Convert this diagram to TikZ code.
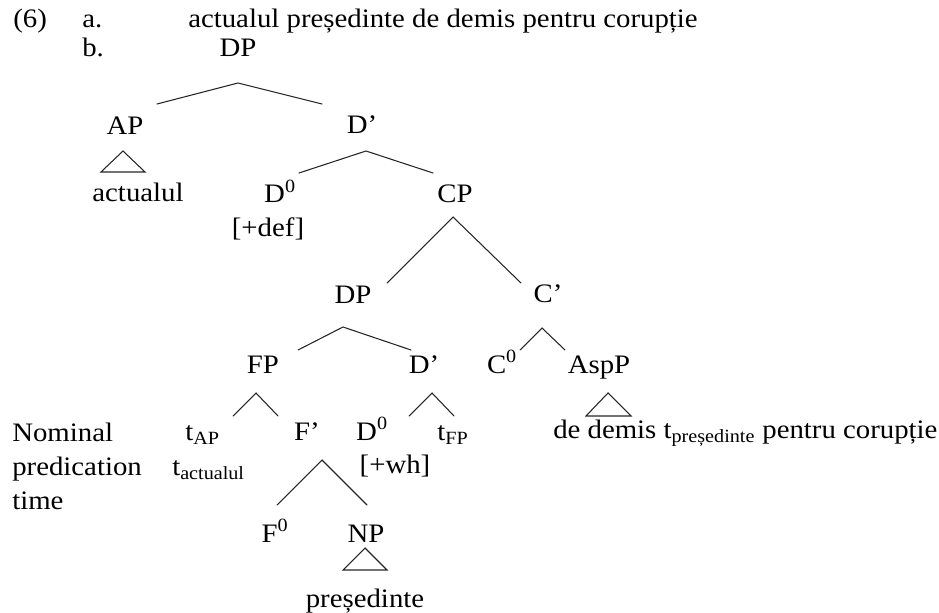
\documentclass[tikz,border=0pt]{standalone}
\usepackage{fontspec}
\setmainfont[FakeStretch=1.08]{Liberation Serif}
\begin{document}
\begin{tikzpicture}[x=0.75pt, y=-0.75pt,
        lbl/.style={anchor=base, inner sep=0pt, font=\fontsize{20}{24}\selectfont},
        lblw/.style={lbl, anchor=base west},
        branch/.style={line width=0.8pt, black!85, line cap=round}]
        \useasboundingbox (0,0) rectangle (939,613);
        % example header
        \node[lblw] (num)   at (13,28)  {(6)};
        \node[lblw] (ex-a)  at (82,28)  {a.};
        \node[lblw] (sent)  at (188,28) {actualul președinte de demis pentru corupție};
        \node[lblw] (ex-b)  at (82,57)  {b.};
        % tree labels
        \node[lbl] (dp1)    at (238,57)  {DP};
        \node[lbl] (ap)     at (125,135) {AP};
        \node[lbl] (actual) at (138,202) {actualul};
        \node[lbl] (dbar1)  at (362,134) {D’};
        \node[lbl] (d1)     at (280,203) {D\textsuperscript{0}};
        \node[lbl] (def)    at (268,237) {[+def]};
        \node[lbl] (cp)     at (455,203) {CP};
        \node[lbl] (dp2)    at (353,303) {DP};
        \node[lbl] (cbar)   at (548,302) {C’};
        \node[lbl] (fp)     at (263,373) {FP};
        \node[lbl] (dbar2)  at (424,373) {D’};
        \node[lbl] (c0)     at (502,373) {C\textsuperscript{0}};
        \node[lbl] (aspp)   at (599,373) {AspP};
        \node[lblw] (tap)   at (185,440) {t\textsubscript{AP}};
        \node[lbl] (fbar)   at (307,440) {F’};
        \node[lbl] (d2)     at (372,440) {D\textsuperscript{0}};
        \node[lbl] (tfp)    at (453,440) {t\textsubscript{FP}};
        \node[lblw] (asp-t) at (553,438) {de demis t\textsubscript{președinte} pentru corupție};
        \node[lblw] (tact)  at (172,475) {t\textsubscript{actualul}};
        \node[lbl] (wh)     at (395,473) {[+wh]};
        \node[lbl] (f0)     at (275,542) {F\textsuperscript{0}};
        \node[lbl] (np)     at (366,542) {NP};
        \node[lbl] (pres)   at (365,607) {președinte};
        % side note
        \node[lblw] (nom)   at (12,441) {Nominal};
        \node[lblw] (pred)  at (12,475) {predication};
        \node[lblw] (time)  at (12,509) {time};
        % branch points
        \coordinate (dp1-fork)   at (238,83);
        \coordinate (ap-arm)     at (157,104);
        \coordinate (dbar1-arm)  at (322,104);
        \coordinate (dbar1-fork) at (366,151);
        \coordinate (d1-arm)     at (299,173);
        \coordinate (cp-arm)     at (433,173);
        \coordinate (cp-fork)    at (453,217);
        \coordinate (dp2-arm)    at (387,283);
        \coordinate (cbar-arm)   at (521,283);
        \coordinate (dp2-fork)   at (343,327);
        \coordinate (fp-arm)     at (298,350);
        \coordinate (dbar2-arm)  at (411,350);
        \coordinate (cbar-fork)  at (542,328);
        \coordinate (c0-arm)     at (520,350);
        \coordinate (aspp-arm)   at (565,350);
        \coordinate (fp-fork)    at (256,393);
        \coordinate (tap-arm)    at (233,416);
        \coordinate (fbar-arm)   at (278,416);
        \coordinate (dbar2-fork) at (432,393);
        \coordinate (d2-arm)     at (409,416);
        \coordinate (tfp-arm)    at (454,416);
        \coordinate (fbar-fork)  at (322,460);
        \coordinate (f0-arm)     at (277,505);
        \coordinate (np-arm)     at (367,505);
        % branches
        \draw[branch] (ap-arm)   -- (dp1-fork)   -- (dbar1-arm);
        \draw[branch] (d1-arm)   -- (dbar1-fork) -- (cp-arm);
        \draw[branch] (dp2-arm)  -- (cp-fork)    -- (cbar-arm);
        \draw[branch] (fp-arm)   -- (dp2-fork)   -- (dbar2-arm);
        \draw[branch] (c0-arm)   -- (cbar-fork)  -- (aspp-arm);
        \draw[branch] (tap-arm)  -- (fp-fork)    -- (fbar-arm);
        \draw[branch] (d2-arm)   -- (dbar2-fork) -- (tfp-arm);
        \draw[branch] (f0-arm)   -- (fbar-fork)  -- (np-arm);
        % roofs
        \draw[branch] (123,151) -- (101,172) -- (145,172) -- cycle;
        \draw[branch] (608,393) -- (586,416) -- (631,416) -- cycle;
        \draw[branch] (365,548) -- (343,570) -- (387,570) -- cycle;
    \end{tikzpicture}
\end{document}
